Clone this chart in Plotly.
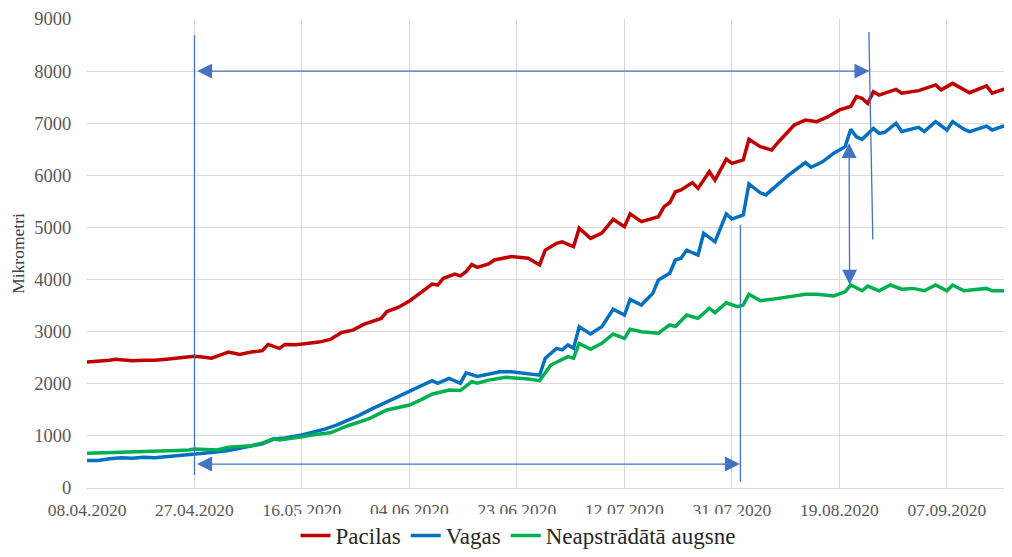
import pandas as pd
import plotly.graph_objects as go

# Koka diametra izmaiņas (mikrometri), dienas no 08.04.2020
start = pd.Timestamp('2020-04-08')

pacilas_days = [0, 2, 4, 5, 6, 8, 10, 12, 14, 16, 18, 19, 20, 22, 24, 25, 27, 29, 31, 32,
                34, 35, 37, 39, 41, 43, 45, 47, 49, 52, 53, 55, 57, 59, 61, 62, 63, 65, 66, 67,
                68, 69, 71, 72, 75, 78, 80, 81, 83, 84, 86, 87, 89, 91, 93, 95, 96, 98, 101, 102,
                103, 104, 105, 107, 108, 110, 111, 113, 114, 116, 117, 119, 121, 122, 125, 127, 129, 131, 133, 135,
                136, 137, 138, 139, 140, 143, 144, 147, 150, 151, 153, 156, 159, 160, 162, 164]
pacilas = [2420, 2430, 2450, 2470, 2460, 2440, 2450, 2450, 2470, 2490, 2510, 2530, 2520, 2490, 2570, 2610, 2565, 2610, 2635, 2755,
           2680, 2755, 2750, 2775, 2800, 2850, 2985, 3030, 3145, 3255, 3385, 3465, 3590, 3750, 3915, 3895, 4025, 4105, 4070, 4150,
           4290, 4235, 4300, 4375, 4440, 4410, 4280, 4565, 4695, 4725, 4630, 4985, 4790, 4890, 5155, 5015, 5260, 5110, 5205, 5400,
           5475, 5685, 5720, 5860, 5750, 6070, 5910, 6310, 6230, 6295, 6690, 6550, 6485, 6615, 6965, 7060, 7030, 7125, 7255, 7320,
           7510, 7480, 7380, 7605, 7540, 7650, 7575, 7625, 7735, 7640, 7765, 7585, 7715, 7575, 7650, 7575]

vagas_days = [0, 2, 4, 6, 8, 10, 12, 14, 16, 19, 22, 25, 28, 31, 33, 35, 38, 40, 42, 44,
              46, 48, 50, 52, 54, 57, 59, 61, 62, 64, 66, 67, 69, 71, 73, 75, 78, 80, 81, 83,
              84, 85, 86, 87, 89, 91, 93, 95, 96, 98, 100, 101, 103, 104, 105, 106, 108, 109, 111, 113,
              114, 116, 117, 119, 120, 122, 124, 127, 128, 130, 132, 134, 135, 136, 137, 139, 140, 141, 143, 144,
              147, 148, 150, 152, 153, 155, 156, 159, 160, 162, 164]
vagas = [530, 530, 560, 580, 570, 590, 580, 600, 610, 635, 680, 720, 780, 850, 940, 960, 1017, 1070, 1130, 1200,
         1290, 1390, 1500, 1600, 1700, 1850, 1960, 2060, 2010, 2105, 2010, 2210, 2140, 2190, 2230, 2230, 2200, 2165, 2490, 2680,
         2650, 2745, 2680, 3095, 2955, 3095, 3430, 3320, 3620, 3510, 3735, 3990, 4120, 4375, 4410, 4565, 4470, 4890, 4725, 5260,
         5160, 5240, 5835, 5665, 5625, 5815, 6005, 6245, 6155, 6260, 6425, 6550, 6885, 6740, 6690, 6900, 6805, 6825, 7000, 6840,
         6920, 6840, 7030, 6870, 7030, 6885, 6840, 6945, 6870, 6945, 6885]

augsne_days = [0, 2, 4, 6, 8, 10, 12, 14, 16, 18, 19, 21, 23, 25, 27, 29, 31, 33, 34, 36,
               38, 40, 43, 46, 50, 53, 57, 59, 61, 64, 66, 68, 69, 71, 74, 78, 80, 82, 85, 86,
               87, 89, 91, 93, 95, 96, 98, 101, 103, 104, 106, 108, 110, 111, 113, 115, 116, 117, 119, 121,
               124, 127, 129, 132, 134, 135, 137, 138, 140, 142, 144, 146, 148, 150, 152, 153, 155, 159, 160, 164]
augsne = [665, 670, 690, 680, 700, 690, 700, 710, 720, 730, 750, 740, 730, 780, 790, 810, 860, 950, 920, 960,
          985, 1020, 1060, 1190, 1337, 1497, 1593, 1690, 1800, 1880, 1870, 2040, 2010, 2070, 2125, 2090, 2060, 2360, 2520, 2490,
          2775, 2660, 2775, 2955, 2870, 3045, 3000, 2970, 3130, 3100, 3320, 3255, 3450, 3365, 3555, 3480, 3510, 3720, 3595, 3620,
          3670, 3720, 3720, 3685, 3765, 3895, 3785, 3875, 3785, 3895, 3815, 3830, 3785, 3895, 3785, 3895, 3785, 3830, 3785, 3785]

series = [('Pacilas', pacilas_days, pacilas, '#C00000'),
          ('Vagas', vagas_days, vagas, '#0070C0'),
          ('Neapstrādātā augsne', augsne_days, augsne, '#00B050')]


def day(d):
    return start + pd.Timedelta(days=d)


fig = go.Figure()
for name, days, vals, color in series:
    fig.add_trace(go.Scatter(x=[day(d) for d in days], y=vals, mode='lines', name=name,
                             line=dict(color=color, width=3.5)))

# anotāciju līnijas un bultas
arrow_col = '#4472C4'
fig.add_shape(type='line', x0=day(19), x1=day(19), y0=250, y1=8690,
              line=dict(color=arrow_col, width=1.3))
fig.add_shape(type='line', x0=day(138.9), x1=day(138.2), y0=4770, y1=8750,
              line=dict(color=arrow_col, width=1.3))
fig.add_shape(type='line', x0=day(115.5), x1=day(115.5), y0=120, y1=5050,
              line=dict(color=arrow_col, width=1.3))

arrows = [(19.2, 8000, 138.3, 8000),
          (19.2, 460, 115.4, 460),
          (134.7, 6650, 134.8, 3900)]
for x0, y0, x1, y1 in arrows:
    fig.add_annotation(x=day(x1), y=y1, ax=day(x0), ay=y0, xref='x', yref='y', axref='x', ayref='y',
                       text='', showarrow=True, arrowhead=2, startarrowhead=2, arrowside='end+start',
                       arrowsize=2.3, startarrowsize=2.3, arrowwidth=1.3, arrowcolor=arrow_col)

# lapa tiek attēlota ar 8 px atkāpi, tāpēc izmērs ir mazāks par logu
fig.update_layout(
    width=1004, height=549,
    margin=dict(l=79, r=0, t=11, b=69),
    plot_bgcolor='white', paper_bgcolor='white',
    font=dict(family='Liberation Serif', color='#595959', size=13),
    showlegend=True,
    legend=dict(orientation='h', x=0.508, xref='container', y=-0.02, yref='container',
                xanchor='center', yanchor='bottom',
                font=dict(size=23, color='#262626'), itemwidth=30),
)
fig.update_xaxes(type='date', range=[day(0), day(163.5)], tick0=day(0), dtick=19 * 86400000,
                 tickformat='%d.%m.%Y', showgrid=True, gridcolor='#D9D9D9', gridwidth=1.3,
                 showline=True, linecolor='#D9D9D9', ticks='outside', ticklen=6, tickcolor='rgba(0,0,0,0)',
                 automargin=False, tickfont=dict(size=17.5, color='#595959'))
fig.update_yaxes(range=[0, 9000], dtick=1000, tickformat='d', showgrid=True, gridcolor='#D9D9D9',
                 gridwidth=1.3, zeroline=False, ticks='outside', ticklen=11, tickcolor='rgba(0,0,0,0)',
                 automargin=False, title=dict(text='Mikrometri', standoff=9,
                 font=dict(size=17.5, color='#404040')), tickfont=dict(size=18.5, color='#595959'))

fig.write_html('out.html')
